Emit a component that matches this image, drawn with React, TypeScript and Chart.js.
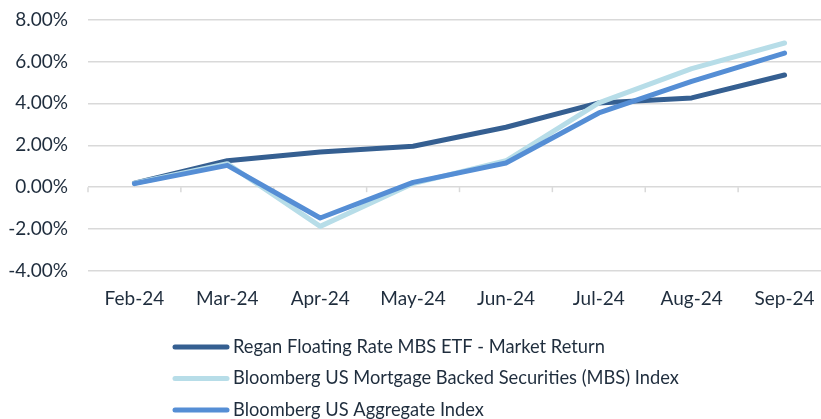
import React, { useEffect, useRef } from "react";
import { Chart, registerables } from "chart.js";

Chart.register(...registerables);

const categories = ["Feb-24", "Mar-24", "Apr-24", "May-24", "Jun-24", "Jul-24", "Aug-24", "Sep-24"];
const reganReturn = [0.19, 1.26, 1.68, 1.95, 2.86, 4.02, 4.26, 5.35];
const mbsIndex = [0.19, 1.12, -1.87, 0.17, 1.26, 4.02, 5.66, 6.88];
const aggIndex = [0.17, 1.04, -1.47, 0.23, 1.15, 3.54, 5.05, 6.4];
const seriesNames = [
  "Regan Floating Rate MBS ETF - Market Return",
  "Bloomberg US Mortgage Backed Securities (MBS) Index",
  "Bloomberg US Aggregate Index",
];
const seriesColors = ["#355F91", "#B7DDE8", "#558ED5"];
const yMin = -4;
const yMax = 8;
const yStep = 2;

const FONT = "Lato, 'Open Sans', sans-serif";
const TEXT = "#1F2D3D";

export default function App() {
  const ref = useRef<HTMLCanvasElement | null>(null);

  useEffect(() => {
    if (!ref.current) return;

    const zeroTicks = {
      id: "zeroTicks",
      beforeDatasetsDraw(chart: any) {
        const x = chart.scales.x;
        const y = chart.scales.y;
        const ctx = chart.ctx;
        const y0 = y.getPixelForValue(0);
        const n = categories.length;
        const spacing = n > 1 ? x.getPixelForValue(1) - x.getPixelForValue(0) : 0;
        ctx.save();
        ctx.strokeStyle = "#D9D9D9";
        ctx.lineWidth = 1.5;
        for (let i = 0; i <= n; i++) {
          const px = x.getPixelForValue(0) + (i - 0.5) * spacing;
          ctx.beginPath();
          ctx.moveTo(px, y0);
          ctx.lineTo(px, y0 + 5);
          ctx.stroke();
        }
        ctx.restore();
      },
    };

    const customLegend = {
      id: "customLegend",
      afterDraw(chart: any) {
        const ctx = chart.ctx;
        const rows = [347, 378.5, 410];
        ctx.save();
        ctx.font = `18.3px ${FONT}`;
        ctx.textBaseline = "middle";
        ctx.textAlign = "left";
        seriesNames.forEach((name, i) => {
          ctx.strokeStyle = seriesColors[i];
          ctx.lineWidth = 5;
          ctx.lineCap = "round";
          ctx.beginPath();
          ctx.moveTo(175, rows[i]);
          ctx.lineTo(227, rows[i]);
          ctx.stroke();
          ctx.fillStyle = TEXT;
          ctx.fillText(name, 233, rows[i]);
        });
        ctx.restore();
      },
    };

    const mk = (label: string, data: number[], color: string, order: number) => ({
      label,
      data,
      borderColor: color,
      backgroundColor: color,
      borderWidth: 5,
      borderCapStyle: "round" as const,
      borderJoinStyle: "round" as const,
      pointRadius: 0,
      tension: 0,
      fill: false,
      order,
    });

    const chart = new Chart(ref.current, {
      type: "line",
      data: {
        labels: categories,
        datasets: [
          mk(seriesNames[0], reganReturn, seriesColors[0], 3),
          mk(seriesNames[1], mbsIndex, seriesColors[1], 2),
          mk(seriesNames[2], aggIndex, seriesColors[2], 1),
        ],
      },
      options: {
        animation: false,
        responsive: false,
        maintainAspectRatio: false,
        layout: { padding: { top: 19.5, left: 0, right: 0, bottom: 0 } },
        plugins: {
          legend: { display: false },
          tooltip: { enabled: false },
        },
        scales: {
          x: {
            offset: true,
            grid: { display: false, drawTicks: false },
            border: { display: false },
            ticks: { color: TEXT, font: { family: FONT, size: 19 }, padding: 16, maxRotation: 0 },
            afterFit: (s: any) => {
              s.height = 148;
            },
          },
          y: {
            min: yMin,
            max: yMax,
            ticks: {
              stepSize: yStep,
              color: TEXT,
              font: { family: FONT, size: 19 },
              padding: 0,
              callback: (v: any) => Number(v).toFixed(2) + "%",
            },
            grid: { color: "#D9D9D9", lineWidth: 1.5, drawTicks: true, tickLength: 20, tickColor: "rgba(0,0,0,0)" },
            border: { display: false },
            afterFit: (s: any) => {
              s.width = 88;
            },
          },
        },
      },
      plugins: [zeroTicks, customLegend],
    });

    return () => chart.destroy();
  }, []);

  return (
    <div style={{ position: "fixed", left: 0, top: 0, width: 821, height: 419, overflow: "hidden", background: "#fff" }}>
      <canvas ref={ref} width={831} height={419} style={{ display: "block", width: 831, height: 419 }} />
    </div>
  );
}
